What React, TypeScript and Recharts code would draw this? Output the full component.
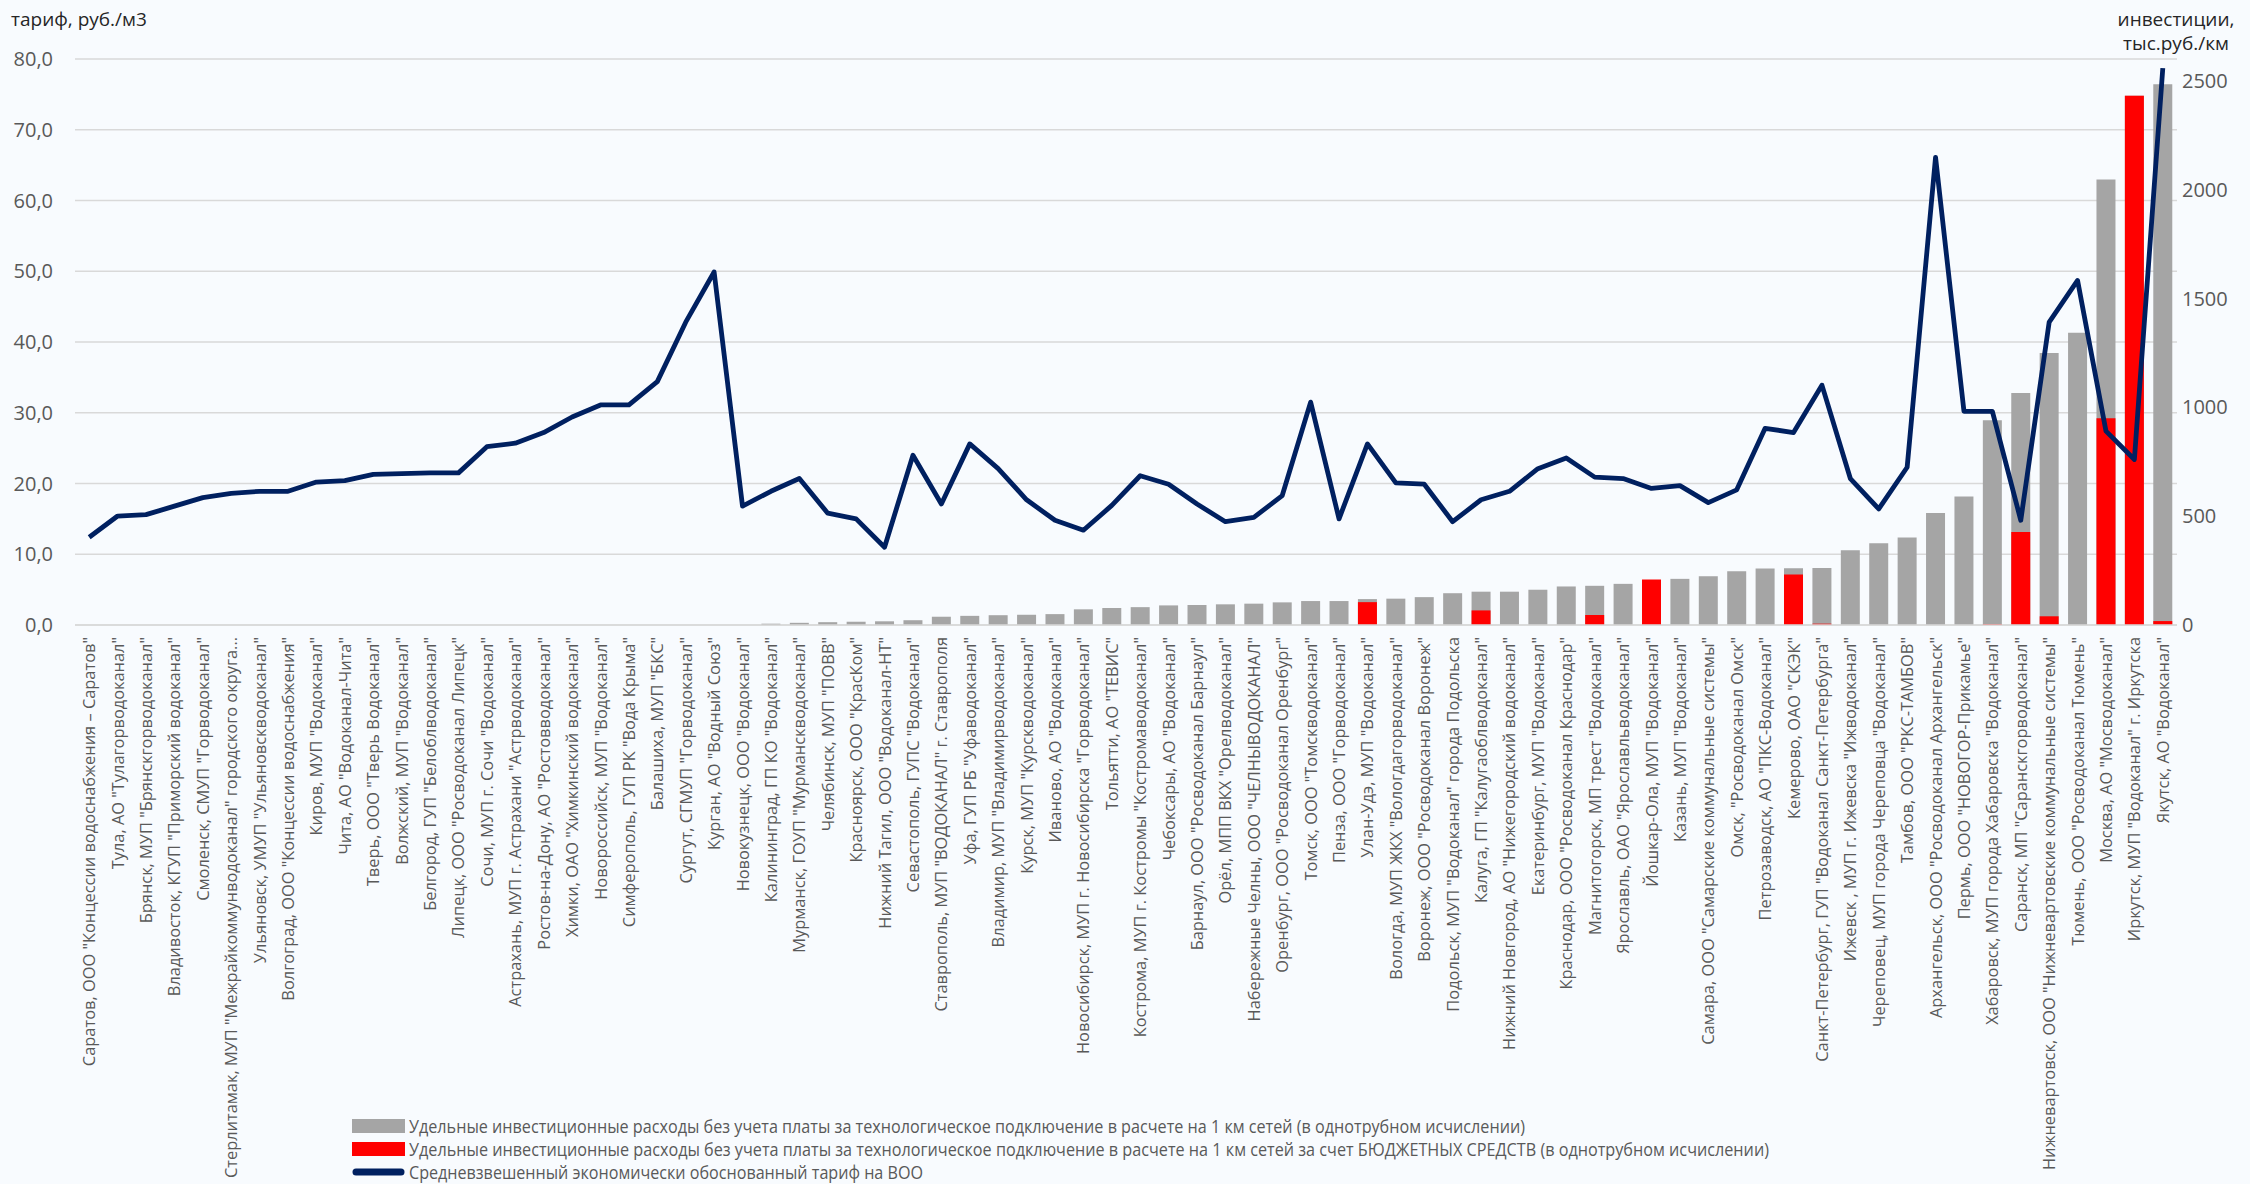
import React from 'react';
import { ComposedChart, Bar, Line, XAxis, YAxis, CartesianGrid, Legend } from 'recharts';

const categories = [
  'Саратов, ООО "Концессии водоснабжения – Саратов"',
  'Тула, АО "Тулагорводоканал"',
  'Брянск, МУП "Брянскгорводоканал"',
  'Владивосток, КГУП "Приморский водоканал"',
  'Смоленск, СМУП "Горводоканал"',
  'Стерлитамак, МУП "Межрайкоммунводоканал" городского округа...',
  'Ульяновск, УМУП "Ульяновскводоканал"',
  'Волгоград, ООО "Концессии водоснабжения"',
  'Киров, МУП "Водоканал"',
  'Чита, АО "Водоканал-Чита"',
  'Тверь, ООО "Тверь Водоканал"',
  'Волжский, МУП "Водоканал"',
  'Белгород, ГУП "Белоблводоканал"',
  'Липецк, ООО "Росводоканал Липецк"',
  'Сочи, МУП г. Сочи "Водоканал"',
  'Астрахань, МУП г. Астрахани "Астрводоканал"',
  'Ростов-на-Дону, АО "Ростовводоканал"',
  'Химки, ОАО "Химкинский водоканал"',
  'Новороссийск, МУП "Водоканал"',
  'Симферополь, ГУП РК "Вода Крыма"',
  'Балашиха, МУП "БКС"',
  'Сургут, СГМУП "Горводоканал"',
  'Курган, АО "Водный Союз"',
  'Новокузнецк, ООО "Водоканал"',
  'Калининград, ГП КО "Водоканал"',
  'Мурманск, ГОУП "Мурманскводоканал"',
  'Челябинск, МУП "ПОВВ"',
  'Красноярск, ООО "КрасКом"',
  'Нижний Тагил, ООО "Водоканал-НТ"',
  'Севастополь, ГУПС "Водоканал"',
  'Ставрополь, МУП "ВОДОКАНАЛ" г. Ставрополя',
  'Уфа, ГУП РБ "Уфаводоканал"',
  'Владимир, МУП "Владимирводоканал"',
  'Курск, МУП "Курскводоканал"',
  'Иваново, АО "Водоканал"',
  'Новосибирск, МУП г. Новосибирска "Горводоканал"',
  'Тольятти, АО "ТЕВИС"',
  'Кострома, МУП г. Костромы "Костромаводоканал"',
  'Чебоксары, АО "Водоканал"',
  'Барнаул, ООО "Росводоканал Барнаул"',
  'Орёл,  МПП ВКХ "Орелводоканал"',
  'Набережные Челны, ООО "ЧЕЛНЫВОДОКАНАЛ"',
  'Оренбург, ООО "Росводоканал Оренбург"',
  'Томск, ООО "Томскводоканал"',
  'Пенза, ООО "Горводоканал"',
  'Улан-Удэ, МУП "Водоканал"',
  'Вологда, МУП ЖКХ "Вологдагорводоканал"',
  'Воронеж, ООО "Росводоканал Воронеж"',
  'Подольск, МУП "Водоканал" города Подольска',
  'Калуга, ГП "Калугаоблводоканал"',
  'Нижний Новгород, АО "Нижегородский водоканал"',
  'Екатеринбург, МУП "Водоканал"',
  'Краснодар, ООО "Росводоканал Краснодар"',
  'Магнитогорск, МП трест "Водоканал"',
  'Ярославль, ОАО "Ярославльводоканал"',
  'Йошкар-Ола, МУП "Водоканал"',
  'Казань, МУП "Водоканал"',
  'Самара, ООО "Самарские коммунальные системы"',
  'Омск, "Росводоканал Омск"',
  'Петрозаводск, АО "ПКС-Водоканал"',
  'Кемерово, ОАО "СКЭК"',
  'Санкт-Петербург, ГУП "Водоканал Санкт-Петербурга"',
  'Ижевск , МУП г. Ижевска "Ижводоканал"',
  'Череповец, МУП города Череповца "Водоканал"',
  'Тамбов, ООО "РКС-ТАМБОВ"',
  'Архангельск, ООО "Росводоканал Архангельск"',
  'Пермь, ООО "НОВОГОР-Прикамье"',
  'Хабаровск, МУП города Хабаровска "Водоканал"',
  'Саранск, МП "Саранскгорводоканал"',
  'Нижневартовск, ООО "Нижневартовские коммунальные системы"',
  'Тюмень, ООО "Росводоканал Тюмень"',
  'Москва, АО "Мосводоканал"',
  'Иркутск, МУП "Водоканал" г. Иркутска',
  'Якутск, АО "Водоканал"',
];

// Средневзвешенный тариф, руб./м3 (left axis)
const tariff = [
  12.4, 15.4, 15.6, 16.8, 18.0, 18.6, 18.9, 18.9, 20.2, 20.4,
  21.3, 21.4, 21.5, 21.5, 25.2, 25.7, 27.2, 29.4, 31.1, 31.1,
  34.4, 42.8, 49.9, 16.8, 18.9, 20.7, 15.8, 15.0, 11.0, 24.0,
  17.1, 25.6, 22.1, 17.7, 14.8, 13.4, 16.9, 21.1, 19.9, 17.1,
  14.6, 15.2, 18.3, 31.5, 15.0, 25.6, 20.1, 19.9, 14.6, 17.7,
  18.9, 22.1, 23.6, 20.9, 20.7, 19.3, 19.7, 17.3, 19.1, 27.8,
  27.2, 33.9, 20.7, 16.4, 22.3, 66.1, 30.2, 30.2, 14.8, 42.8,
  48.7, 27.4, 23.4, 78.7,
];

// Удельные инвестиционные расходы, тыс.руб./км (right axis)
const invest = [
  0, 0, 0, 0, 0, 0, 0, 0, 0, 0,
  0, 0, 0, 0, 0, 0, 0, 0, 0, 0,
  0, 0, 0, 0, 6, 10, 13, 15, 17, 22,
  38, 42, 45, 47, 50, 72, 78, 82, 90, 92,
  95, 98, 104, 110, 110, 119, 121, 128, 146, 153,
  153, 162, 177, 180, 189, 205, 212, 224, 247, 259,
  261, 262, 343, 375, 402, 514, 590, 940, 1066, 1249,
  1342, 2046, 2431, 2484,
];

// Удельные инвестиционные расходы за счет бюджетных средств, тыс.руб./км (right axis)
const budget = [
  0, 0, 0, 0, 0, 0, 0, 0, 0, 0,
  0, 0, 0, 0, 0, 0, 0, 0, 0, 0,
  0, 0, 0, 0, 0, 0, 0, 0, 0, 0,
  0, 0, 0, 0, 0, 0, 0, 0, 0, 0,
  0, 0, 0, 0, 0, 105, 0, 0, 0, 67,
  0, 0, 0, 46, 0, 209, 0, 0, 0, 0,
  232, 6, 0, 0, 0, 0, 0, 4, 427, 40,
  0, 950, 2431, 18,
];

const leftTicks = [0, 10, 20, 30, 40, 50, 60, 70, 80];
const rightTicks = [0, 500, 1000, 1500, 2000, 2500];

const legendLabels = [
  'Удельные инвестиционные расходы без учета платы за технологическое подключение в расчете на 1 км сетей (в однотрубном исчислении)',
  'Удельные инвестиционные расходы без учета платы за технологическое подключение в расчете на 1 км сетей за счет БЮДЖЕТНЫХ СРЕДСТВ (в однотрубном исчислении)',
  'Средневзвешенный экономически обоснованный тариф на ВОО',
];

const leftTitle = 'тариф, руб./м3';
const rightTitle = ['инвестиции,', 'тыс.руб./км'];

const data = categories.map((name, i) => ({
  name,
  tariff: tariff[i],
  invest: invest[i],
  budget: budget[i],
}));

const FONT = '"Open Sans", "Noto Sans", sans-serif';
const GRAY = '#a5a5a5';
const RED = '#ff0000';
const NAVY = '#002060';
const BG = '#f8fbfe';

const CatTick = (props: any) => {
  const { x, y, payload } = props;
  return (
    <g transform={`translate(${x},${y + 12})`}>
      <text
        transform="rotate(-90)"
        x={0}
        y={0}
        dy={6}
        textAnchor="end"
        fill="#595959"
        fontSize={16.4}
        fontFamily={FONT}
      >
        {payload.value}
      </text>
    </g>
  );
};

const renderLegend = () => {
  const rows = [14, 37, 60];
  const widths = [1116, 1360, 514];
  return (
    <svg width={1520} height={74} style={{ display: 'block', overflow: 'visible' }}>
      <rect x={2} y={rows[0] - 7} width={53} height={14} fill={GRAY} />
      <rect x={2} y={rows[1] - 7} width={53} height={14} fill={RED} />
      <line x1={6} x2={51} y1={rows[2]} y2={rows[2]} stroke={NAVY} strokeWidth={7} strokeLinecap="round" />
      {legendLabels.map((t, i) => (
        <text
          key={i}
          x={59}
          y={rows[i]}
          dy="0.36em"
          fontSize={19}
          fontFamily={FONT}
          fill="#595959"
          textLength={widths[i]}
          lengthAdjust="spacingAndGlyphs"
        >
          {t}
        </text>
      ))}
    </svg>
  );
};

export default function App() {
  return (
    <div style={{ position: 'absolute', left: 0, top: 0, width: 2250, height: 1184, background: BG }}>
      <div
        style={{
          position: 'absolute',
          left: 11,
          top: 6,
          fontFamily: FONT,
          fontSize: 19,
          lineHeight: '26px',
          color: '#262626',
          whiteSpace: 'nowrap',
        }}
      >
        {leftTitle}
      </div>
      <div
        style={{
          position: 'absolute',
          left: 2096,
          width: 160,
          top: 7,
          fontFamily: FONT,
          fontSize: 19,
          lineHeight: '24px',
          color: '#262626',
          textAlign: 'center',
          whiteSpace: 'nowrap',
        }}
      >
        {rightTitle[0]}
        <br />
        {rightTitle[1]}
      </div>
      <ComposedChart
        width={2250}
        height={1184}
        data={data}
        margin={{ top: 59, right: 0, bottom: 0, left: 0 }}
        barCategoryGap="16.5%"
      >
        <CartesianGrid yAxisId="left" xAxisId="main" vertical={false} stroke="#d9d9d9" strokeWidth={1.5} />
        <XAxis
          xAxisId="main"
          dataKey="name"
          interval={0}
          height={559}
          tickSize={0}
          tickMargin={0}
          tickLine={false}
          axisLine={{ stroke: '#d9d9d9', strokeWidth: 1.5 }}
          tick={<CatTick />}
        />
        <XAxis xAxisId="over" dataKey="name" hide />
        <YAxis
          yAxisId="left"
          domain={[0, 80]}
          ticks={leftTicks}
          width={75}
          tickSize={0}
          tickMargin={22}
          axisLine={false}
          tickLine={false}
          tick={{ fill: '#595959', fontSize: 20, fontFamily: FONT }}
          tickFormatter={(v: number) => v.toFixed(1).replace('.', ',')}
        />
        <YAxis
          yAxisId="right"
          orientation="right"
          domain={[0, 2600]}
          ticks={rightTicks}
          width={73}
          tickSize={0}
          tickMargin={5}
          axisLine={false}
          tickLine={false}
          tick={{ fill: '#595959', fontSize: 20, fontFamily: FONT }}
        />
        <Bar dataKey="invest" name={legendLabels[0]} xAxisId="main" yAxisId="right" fill={GRAY} isAnimationActive={false} />
        <Bar dataKey="budget" name={legendLabels[1]} xAxisId="over" yAxisId="right" fill={RED} isAnimationActive={false} />
        <Line
          dataKey="tariff"
          name={legendLabels[2]}
          xAxisId="main"
          yAxisId="left"
          type="linear"
          stroke={NAVY}
          strokeWidth={4.8}
          strokeLinejoin="round"
          dot={false}
          activeDot={false}
          isAnimationActive={false}
        />
        <Legend
          layout="horizontal"
          verticalAlign="middle"
          align="center"
          wrapperStyle={{ left: 350, top: 1112, width: 1520, height: 74 }}
          content={renderLegend}
        />
      </ComposedChart>
    </div>
  );
}
